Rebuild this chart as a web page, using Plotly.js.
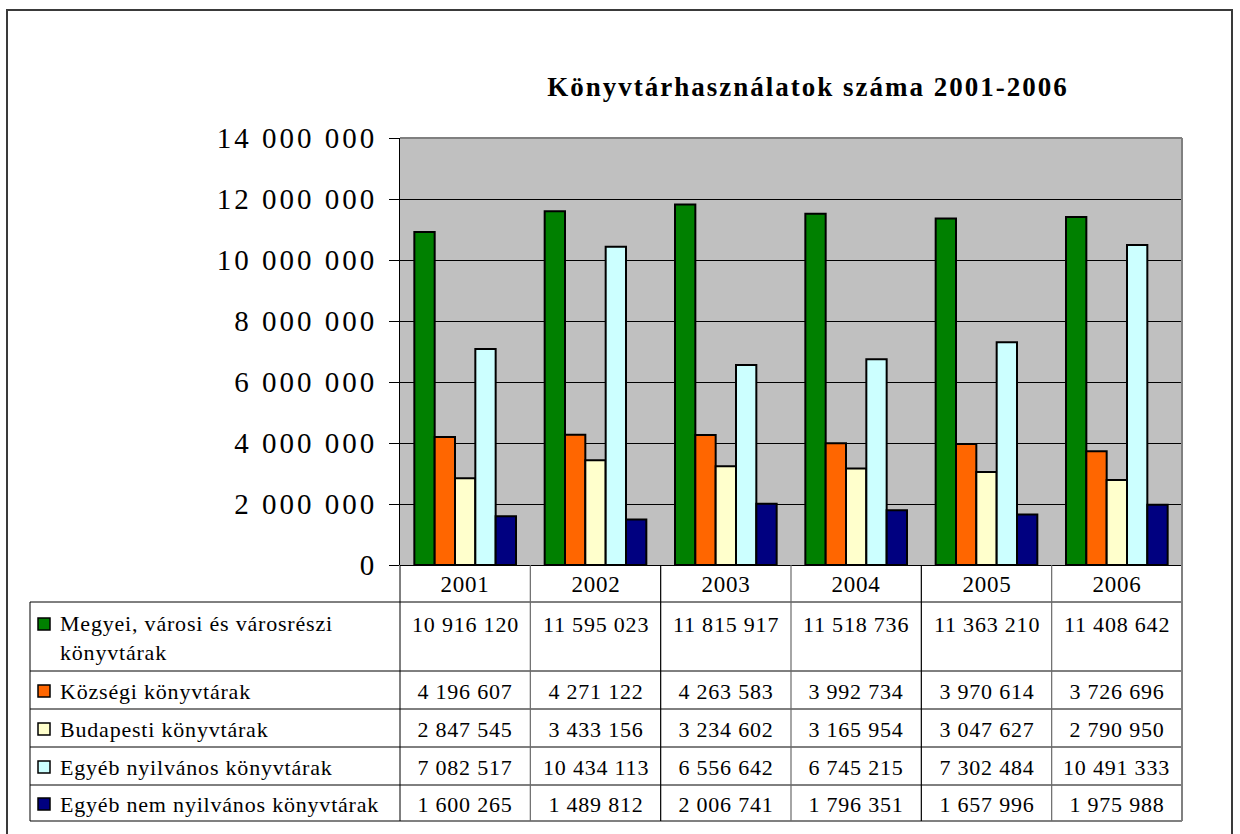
<!DOCTYPE html>
<html>
<head>
<meta charset="utf-8">
<script src="https://cdn.plot.ly/plotly-3.0.1.min.js"></script>
<style>
html,body{margin:0;padding:0;background:#fff;}
#chart{width:1240px;height:834px;}
#chart .ytick text{letter-spacing:3px;}
#chart .gtitle{letter-spacing:2px;}
#chart .annotation text{letter-spacing:0.8px;}
</style>
</head>
<body>
<div id="chart"></div>
<script>
// ---- data ----
var years = ['2001', '2002', '2003', '2004', '2005', '2006'];
var seriesNames = [
  'Megyei, városi és városrészi<br>könyvtárak',
  'Községi könyvtárak',
  'Budapesti könyvtárak',
  'Egyéb nyilvános könyvtárak',
  'Egyéb nem nyilvános könyvtárak'
];
var megyei = [10916120, 11595023, 11815917, 11518736, 11363210, 11408642];
var kozsegi = [4196607, 4271122, 4263583, 3992734, 3970614, 3726696];
var budapesti = [2847545, 3433156, 3234602, 3165954, 3047627, 2790950];
var egyebNyilv = [7082517, 10434113, 6556642, 6745215, 7302484, 10491333];
var egyebNemNyilv = [1600265, 1489812, 2006741, 1796351, 1657996, 1975988];
var seriesValues = [megyei, kozsegi, budapesti, egyebNyilv, egyebNemNyilv];
var colors = ['#008000', '#FF6600', '#FFFFCC', '#CCFFFF', '#000080'];
var titleText = 'Könyvtárhasználatok száma 2001-2006';

// ---- geometry (pixels) ----
var W = 1240, H = 834;
var L = 400, R = 1182, T = 138, B = 565;
function px(x) { return (x - L) / (R - L); }
function py(y) { return (B - y) / (B - T); }
var serif = "Liberation Serif";

function fmt(v) { return String(v).replace(/\B(?=(\d{3})+(?!\d))/g, ' '); }

var traces = seriesValues.map(function (vals, i) {
  return {
    type: 'bar',
    x: years,
    y: vals,
    name: seriesNames[i],
    marker: { color: colors[i], line: { color: '#000', width: 2 } },
    hoverinfo: 'none'
  };
});

// table rows: [top, bottom] in px
var headerTop = 565, headerBot = 602;
var rowBounds = [[602, 671], [671, 709], [709, 747], [747, 785], [785, 821]];
var tableLeft = 30;

var shapes = [];
var annotations = [];

// outer frame
shapes.push({ type: 'rect', xref: 'paper', yref: 'paper', x0: px(7), x1: px(1232), y0: py(10), y1: py(860),
  line: { color: '#3a3a3a', width: 2 }, fillcolor: 'rgba(0,0,0,0)', layer: 'below' });

// plot top & right border (gray)
shapes.push({ type: 'line', xref: 'paper', yref: 'paper', x0: 0, x1: 1, y0: 1, y1: 1, line: { color: '#808080', width: 2 } });
shapes.push({ type: 'line', xref: 'paper', yref: 'paper', x0: 1, x1: 1, y0: 1, y1: py(headerBot), line: { color: '#808080', width: 2 } });

// horizontal table lines
var hLines = [headerBot].concat(rowBounds.map(function (r) { return r[1]; }));
hLines.forEach(function (yy, k) {
  var last = (k === hLines.length - 1);
  shapes.push({ type: 'line', xref: 'paper', yref: 'paper', x0: px(tableLeft), x1: 1, y0: py(yy), y1: py(yy),
    line: { color: last ? '#808080' : '#000', width: last ? 2 : 1 } });
});
// left table edge
shapes.push({ type: 'line', xref: 'paper', yref: 'paper', x0: px(tableLeft), x1: px(tableLeft), y0: py(headerBot), y1: py(821),
  line: { color: '#000', width: 1 } });
// label column right edge (continues y axis)
shapes.push({ type: 'line', xref: 'paper', yref: 'paper', x0: 0, x1: 0, y0: 0, y1: py(821), line: { color: '#000', width: 1 } });
// category boundaries
years.forEach(function (yr, i) {
  if (i === 0) return;
  shapes.push({ type: 'line', xref: 'x', yref: 'paper', x0: i - 0.5, x1: i - 0.5, y0: 0, y1: py(821),
    line: { color: (i % 2 === 1) ? '#6a6a6a' : '#000', width: 1.2 } });
});
// right table edge
shapes.push({ type: 'line', xref: 'paper', yref: 'paper', x0: 1, x1: 1, y0: 0, y1: py(821), line: { color: '#808080', width: 2 } });

// year header labels
years.forEach(function (yr, i) {
  annotations.push({ xref: 'x', yref: 'paper', x: i, y: py((headerTop + headerBot) / 2 + 1), text: yr, showarrow: false,
    xanchor: 'center', yanchor: 'middle', font: { family: serif, size: 23, color: '#000' } });
});

// rows
seriesValues.forEach(function (vals, r) {
  var top = rowBounds[r][0], bot = rowBounds[r][1];
  var cy = (r === 0) ? top + 21 : (top + bot) / 2;
  // key square
  shapes.push({ type: 'rect', xref: 'paper', yref: 'paper', x0: px(38), x1: px(50), y0: py(cy - 5), y1: py(cy + 7),
    fillcolor: colors[r], line: { color: '#000', width: 1.5 } });
  // label
  annotations.push({ xref: 'paper', yref: 'paper', x: px(58), y: py(r === 0 ? top + 7 : cy + 1), text: seriesNames[r],
    showarrow: false, xanchor: 'left', yanchor: r === 0 ? 'top' : 'middle', align: 'left',
    font: { family: serif, size: 22, color: '#000' } });
  vals.forEach(function (v, i) {
    annotations.push({ xref: 'x', yref: 'paper', x: i, y: py(cy + 1), text: fmt(v), showarrow: false,
      xanchor: 'center', yanchor: 'middle', font: { family: serif, size: 22, color: '#000' } });
  });
});

var layout = {
  width: W, height: H,
  font: { family: serif, color: '#000' },
  margin: { l: L, r: W - R, t: T, b: H - B, pad: 0 },
  paper_bgcolor: '#ffffff',
  plot_bgcolor: '#C0C0C0',
  separators: ', ',
  showlegend: false,
  barmode: 'group',
  bargap: 0.22,
  bargroupgap: 0,
  title: { text: '<b>' + titleText + '</b>', xref: 'container', yref: 'container', x: 808 / W, y: 1 - 87 / H,
    xanchor: 'center', yanchor: 'middle', font: { family: serif, size: 27, color: '#000' } },
  xaxis: { type: 'category', range: [-0.5, 5.5], showticklabels: false, ticks: '', showgrid: false,
    zeroline: false, showline: false, fixedrange: true },
  yaxis: { range: [0, 14000000], dtick: 2000000, tickformat: ',d', ticks: 'outside', ticklen: 10, tickcolor: '#000',
    tickwidth: 1, showline: true, linecolor: '#000', linewidth: 1, showgrid: true, gridcolor: '#000', gridwidth: 1,
    zeroline: true, zerolinecolor: '#000', zerolinewidth: 1, ticklabelstandoff: 6,
    tickfont: { family: serif, size: 29, color: '#000' }, fixedrange: true },
  shapes: shapes,
  annotations: annotations
};

Plotly.newPlot('chart', traces, layout, { displayModeBar: false, staticPlot: true });
</script>
</body>
</html>
